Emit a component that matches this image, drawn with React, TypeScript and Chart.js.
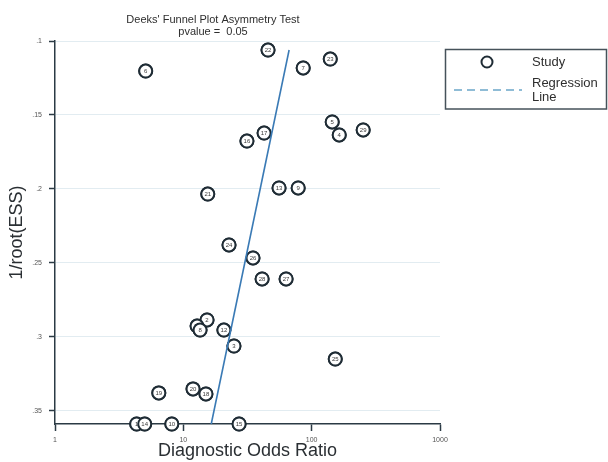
import React, { useEffect, useRef } from "react";
import { Chart, registerables } from "chart.js";

Chart.register(...registerables);

// ---- Data ----
const studyIds = ["22", "6", "7", "23", "5", "4", "29", "17", "16", "13", "9", "21", "24", "26", "28", "27", "2", "11", "8", "12", "3", "25", "19", "20", "18", "1", "14", "10", "15"];
const dorValues = [45.7, 5.09, 85.9, 139.6, 144.6, 164, 252, 42.6, 31.3, 55.7, 78.5, 15.5, 22.7, 34.9, 41.1, 63.2, 15.3, 12.8, 13.5, 20.7, 24.8, 152.7, 6.44, 11.9, 15.0, 4.33, 5.0, 8.13, 27.2];
const essValues = [0.1061, 0.1203, 0.1182, 0.1122, 0.1547, 0.1635, 0.1601, 0.1622, 0.1676, 0.1993, 0.1993, 0.2034, 0.2378, 0.2466, 0.2608, 0.2608, 0.2885, 0.2926, 0.2953, 0.2953, 0.3061, 0.3149, 0.3378, 0.3351, 0.3385, 0.3588, 0.3588, 0.3588, 0.3588];

const regressionDor = [16.5, 66.7];
const regressionEss = [0.3588, 0.1061];

const xTickValues = [1, 10, 100, 1000];
const yTickValues = [0.1, 0.15, 0.2, 0.25, 0.3, 0.35];
const yTickLabels = [".1", ".15", ".2", ".25", ".3", ".35"];
const yMin = 0.1;
const yMax = 0.3588;

const titleLines = ["Deeks' Funnel Plot Asymmetry Test", "pvalue =  0.05"];
const legendLabels = ["Study", "Regression", "Line"];
const xTitle = "Diagnostic Odds Ratio";
const yTitle = "1/root(ESS)";

const FONT = "'Liberation Sans', Arial, Helvetica, sans-serif";
const AXIS = "#2b3a44";
const POINT = "#1f2c35";
const LINE = "#3a7ab5";

const pointLabelPlugin = {
  id: "pointLabels",
  afterDatasetDraw(chart: any, args: any) {
    if (args.index !== 1) return;
    const ctx = chart.ctx;
    const meta = args.meta;
    ctx.save();
    meta.data.forEach((el: any, i: number) => {
      el.draw(ctx, chart.chartArea);
      ctx.fillStyle = "#3a3a3a";
      ctx.font = `6px ${FONT}`;
      ctx.textAlign = "center";
      ctx.textBaseline = "middle";
      ctx.fillText(studyIds[i], el.x, el.y + 0.3);
    });
    ctx.restore();
  },
};

const decorPlugin = {
  id: "decor",
  afterDraw(chart: any) {
    const ctx = chart.ctx;
    ctx.save();
    // title
    ctx.fillStyle = "#2e2e2e";
    ctx.font = `11px ${FONT}`;
    ctx.textAlign = "center";
    ctx.textBaseline = "middle";
    ctx.fillText(titleLines[0], 213, 20);
    ctx.fillText(titleLines[1], 213, 31.5);

    // legend box
    ctx.strokeStyle = "#46525a";
    ctx.lineWidth = 1.5;
    ctx.strokeRect(445.5, 49.5, 161, 59.5);
    // study marker
    ctx.beginPath();
    ctx.arc(487, 62, 5.5, 0, Math.PI * 2);
    ctx.fillStyle = "#fff";
    ctx.fill();
    ctx.strokeStyle = POINT;
    ctx.lineWidth = 2;
    ctx.stroke();
    // regression dashed sample
    ctx.beginPath();
    ctx.setLineDash([8, 5]);
    ctx.strokeStyle = "#8fbcd6";
    ctx.lineWidth = 2;
    ctx.moveTo(454, 90);
    ctx.lineTo(522, 90);
    ctx.stroke();
    ctx.setLineDash([]);
    ctx.fillStyle = "#2e2e2e";
    ctx.font = `13px ${FONT}`;
    ctx.textAlign = "left";
    ctx.textBaseline = "middle";
    ctx.fillText(legendLabels[0], 532, 62);
    ctx.fillText(legendLabels[1], 532, 83.5);
    ctx.fillText(legendLabels[2], 532, 97);
    ctx.restore();
  },
};

export default function App() {
  const ref = useRef<HTMLCanvasElement | null>(null);

  useEffect(() => {
    if (!ref.current) return;
    Chart.defaults.font.family = FONT;
    const chart = new Chart(ref.current, {
      type: "scatter",
      data: {
        datasets: [
          {
            type: "line",
            label: "Regression Line",
            data: regressionDor.map((x, i) => ({ x, y: regressionEss[i] })),
            borderColor: LINE,
            borderWidth: 1.6,
            pointRadius: 0,
            showLine: true,
            fill: false,
            clip: false,
          } as any,
          {
            label: "Study",
            data: dorValues.map((x, i) => ({ x, y: essValues[i] })),
            pointRadius: 6.5,
            pointHoverRadius: 6.5,
            pointBorderWidth: 2,
            borderColor: POINT,
            backgroundColor: "#ffffff",
            clip: false,
          } as any,
        ],
      },
      options: {
        responsive: false,
        animation: false,
        devicePixelRatio: 1,
        layout: { padding: { top: 41, right: 168, left: 0, bottom: 0 } },
        plugins: {
          legend: { display: false },
          title: { display: false },
          tooltip: { enabled: false },
        },
        scales: {
          x: {
            type: "logarithmic",
            min: 1,
            max: 1000,
            afterBuildTicks: (scale: any) => {
              scale.ticks = xTickValues.map((v) => ({ value: v }));
            },
            afterFit: (scale: any) => {
              scale.height = 38;
            },
            ticks: {
              autoSkip: false,
              maxRotation: 0,
              font: { size: 7 },
              color: "#555",
              padding: 5,
              callback: (v: any) => String(v),
            },
            grid: {
              drawOnChartArea: false,
              drawTicks: true,
              tickLength: 7,
              tickColor: AXIS,
              tickWidth: 1.5,
            },
            border: { color: AXIS, width: 1.5 },
            title: {
              display: true,
              text: xTitle,
              font: { size: 18 },
              color: "#2a2f33",
              padding: { top: 0, bottom: 0 },
            },
          },
          y: {
            type: "linear",
            reverse: true,
            min: yMin,
            max: yMax,
            afterBuildTicks: (scale: any) => {
              scale.ticks = yTickValues.map((v) => ({ value: v }));
            },
            afterFit: (scale: any) => {
              scale.width = 55;
            },
            ticks: {
              autoSkip: false,
              font: { size: 7 },
              color: "#555",
              padding: 7,
              callback: (_v: any, i: number) => yTickLabels[i],
            },
            grid: {
              color: "#e2ecf1",
              lineWidth: 1,
              drawTicks: true,
              tickLength: 6,
              tickColor: AXIS,
              tickWidth: 1.5,
            },
            border: { color: AXIS, width: 1.5 },
            title: {
              display: true,
              text: yTitle,
              font: { size: 18 },
              color: "#2a2f33",
              padding: { top: 6, bottom: 0 },
            },
          },
        },
      } as any,
      plugins: [pointLabelPlugin, decorPlugin],
    });
    return () => chart.destroy();
  }, []);

  return (
    <div style={{ position: "absolute", left: 0, top: 0, width: 608, height: 462, background: "#fff" }}>
      <canvas ref={ref} width={608} height={462} />
    </div>
  );
}
